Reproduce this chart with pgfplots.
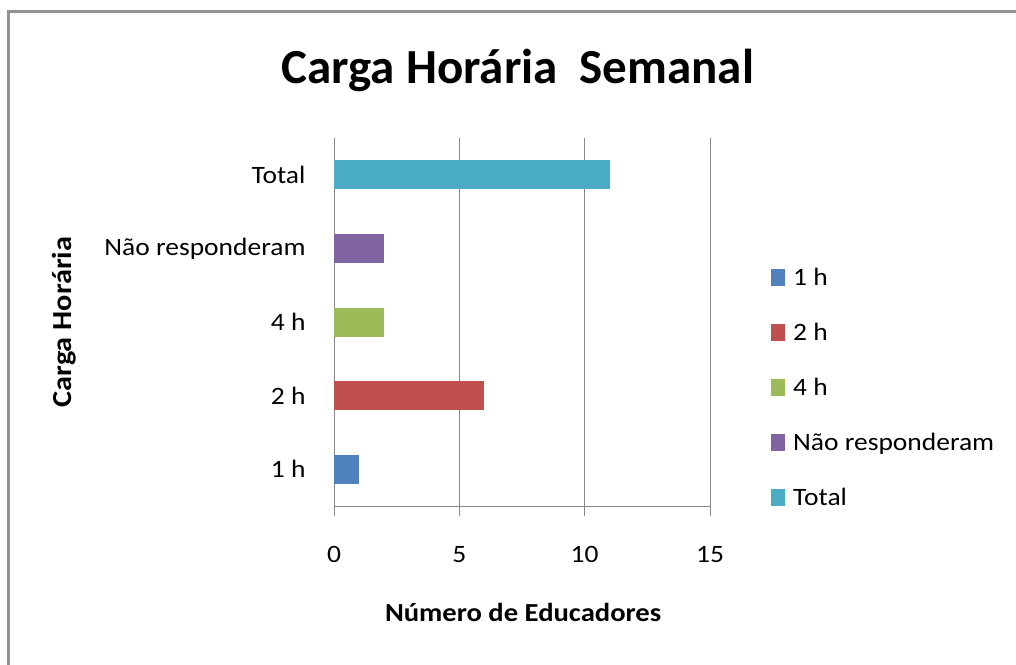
\documentclass[border=0pt]{standalone}
\usepackage{fontspec}
\setmainfont{Carlito}[FakeStretch=1.1]
\newfontfamily\titlefont{Carlito}[FakeStretch=1.0]
\usepackage{pgfplots}
\pgfplotsset{compat=1.18}
\definecolor{c1}{HTML}{4F81BD}
\definecolor{c2}{HTML}{C0504D}
\definecolor{c3}{HTML}{9BBB59}
\definecolor{c4}{HTML}{8064A2}
\definecolor{c5}{HTML}{4BACC6}
\definecolor{gridc}{HTML}{868686}
\begin{document}
\begin{tikzpicture}
\path[use as bounding box] (0pt,0pt) rectangle (1016pt,664pt);
\draw[color=gridc!90, line width=2.6pt] (8.5pt,-5pt) -- (8.5pt,652.5pt) -- (1016pt,652.5pt);
\begin{axis}[
  at={(334pt,158pt)}, anchor=south west,
  scale only axis, width=376pt, height=368pt,
  xbar, bar width=29pt, bar shift=0pt,
  xmin=0, xmax=15, ymin=-0.5, ymax=4.5,
  axis x line*=bottom, axis y line*=left,
  axis line style={-, gridc, line width=1pt},
  xtick={0,5,10,15},
  xmajorgrids, grid style={gridc, line width=1pt},
  ytick={0,1,2,3,4},
  yticklabels={1 h,2 h,4 h,Não responderam,Total},
  major y tick style={draw=none},
  extra y ticks={-0.5,0.5,1.5,2.5,3.5,4.5},
  extra y tick labels={},
  extra y tick style={major tick length=10pt, tick align=outside, major tick style={gridc, line width=1pt}, grid=none},
  major tick length=10pt, tick align=outside,
  tick style={gridc, line width=1pt},
  /pgf/number format/assume math mode=true,
  ticklabel style={font=\fontsize{25}{30}\selectfont, text=black},
  xticklabel style={anchor=base, yshift=-46pt},
  yticklabel style={anchor=east, xshift=-15pt},
  title={Carga Horária\ \ Semanal},
  title style={at={(axis description cs:0.489,1.133)}, anchor=base, font=\titlefont\fontsize{49}{58}\selectfont\bfseries},
  xlabel={Número de Educadores},
  xlabel style={at={(axis description cs:0.503,-0.3152)}, anchor=base, font=\fontsize{26}{30}\selectfont\bfseries},
  ylabel={Carga Horária},
  ylabel style={at={(axis description cs:-0.697,0.5)}, anchor=base, rotate=0, font=\fontsize{27.5}{32}\selectfont\bfseries},
  legend style={at={(axis description cs:1.1622,0.645)}, anchor=north west, draw=none, fill=none,
    inner sep=0pt, row sep=32pt, column sep=8pt,
    nodes={inner sep=0pt, text height=17pt, text depth=6pt, font=\fontsize{25}{30}\selectfont}},
  legend cell align=left,
  legend image code/.code={\fill[#1] (0pt,-6pt) rectangle (14pt,11pt);},
]
\addplot[fill=c1, draw=none] coordinates {(1,0)};
\addplot[fill=c2, draw=none] coordinates {(6,1)};
\addplot[fill=c3, draw=none] coordinates {(2,2)};
\addplot[fill=c4, draw=none] coordinates {(2,3)};
\addplot[fill=c5, draw=none] coordinates {(11,4)};
\legend{1 h,2 h,4 h,Não responderam,Total}
\end{axis}
\end{tikzpicture}
\end{document}
